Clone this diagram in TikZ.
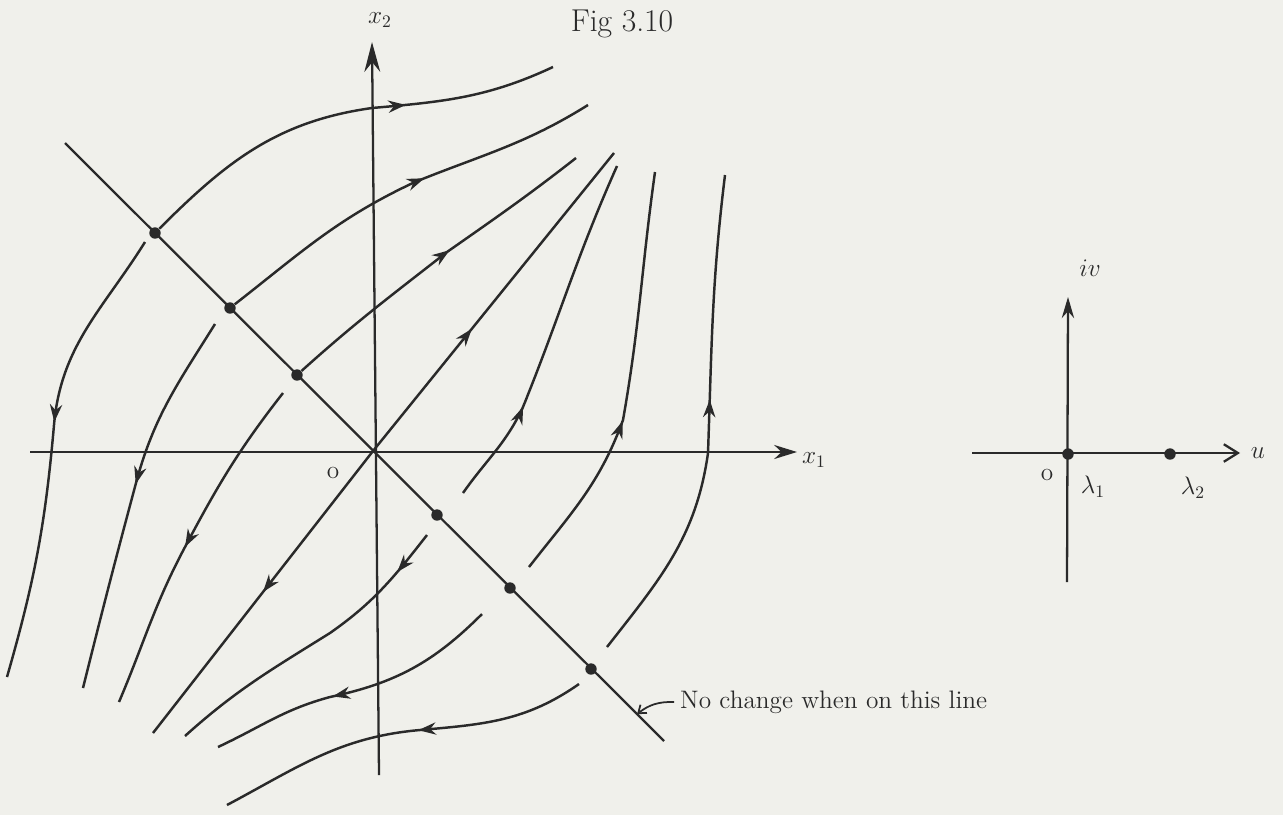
\documentclass[tikz,border=0pt]{standalone}
\usetikzlibrary{arrows.meta,calc,decorations.markings}
\definecolor{ink}{RGB}{42,42,42}
\definecolor{paper}{RGB}{240,240,235}
\tikzset{
  axis/.style={draw=ink,line width=1.3pt},
  traj/.style={draw=ink,line width=1.4pt,postaction={decorate},
    decoration={markings,mark=at position #1 with {\arrow{Stealth[length=10pt,width=7pt]}}}},
  eq/.style={circle,fill=ink,inner sep=0pt,minimum size=6.5pt},
  lbl/.style={text=ink,font=\Large},
}

\begin{document}
\begin{tikzpicture}[x=0.02cm,y=0.02cm]
  \fill[paper] (0,0) rectangle (1283,-815);
  \useasboundingbox (0,0) rectangle (1283,-815);

  \node[text=ink,font=\fontsize{18}{22}\selectfont,anchor=base] (fig) at (622,-31) {Fig 3.10};

  % phase plane
  \coordinate (O) at (373,-451);
  \draw[axis,-{Stealth[length=13pt,width=8pt]}] (30,-452) -- (797,-452);
  \draw[axis,-{Stealth[length=17pt,width=9pt]}] (379,-775) -- (372,-42);
  \node[lbl] (x1) at (814,-460) {$x_1$};
  \node[lbl] (x2) at (380,-20) {$x_2$};
  \node[lbl] (zero) at (333,-473) {o};

  \coordinate (dA) at (65,-143);
  \coordinate (dB) at (664,-741);
  \draw[axis] (dA) -- (dB);
  \node[eq] (d1) at (155,-233) {};
  \node[eq] (d2) at (230,-308) {};
  \node[eq] (d3) at (297,-375) {};
  \node[eq] (d4) at (437,-515) {};
  \node[eq] (d5) at (510,-588) {};
  \node[eq] (d6) at (591,-669) {};

  \coordinate (ua) at (614,-153);
  \coordinate (ub) at (153,-733);
  \draw[traj=0.41] (O) -- (ua);
  \draw[traj=0.5] (O) -- (ub);

  \draw[traj=0.65] (d1) to[out=45,in=188] (372,-108) to[out=5,in=205] (553,-67);
  \draw[traj=0.56] (d2) to[out=38,in=205] (415,-182) to[out=22,in=212] (588,-105);
  \draw[traj=0.55] (d3) to[out=42,in=218] (447,-252) to[out=35,in=218] (576,-158);

  \draw[traj=0.29] (463,-493) to[out=55,in=245] (523,-407) to[out=68,in=246] (617,-166);
  \draw[traj=0.41] (529,-567) to[out=52,in=250] (623,-420) to[out=80,in=262] (655,-172);
  \draw[traj=0.55] (607,-647) to[out=52,in=262] (708,-453) to[out=88,in=263] (725,-175);

  \draw[traj=0.44] (145,-242) to[out=238,in=85] (54,-425) to[out=265,in=74] (7,-677);
  \draw[traj=0.46] (215,-324) to[out=238,in=75] (136,-483) to[out=255,in=76] (83,-688);
  \draw[traj=0.52] (283,-393) to[out=232,in=62] (185,-547) to[out=242,in=67] (119,-702);

  \draw[traj=0.15] (427,-535) to[out=232,in=35] (330,-633) to[out=212,in=42] (185,-736);
  \draw[traj=0.58] (482,-614) to[out=225,in=12] (330,-697) to[out=195,in=25] (218,-747);
  \draw[traj=0.45] (579,-684) to[out=215,in=5] (420,-730) to[out=185,in=28] (227,-805);

  \node[lbl,anchor=west] (note) at (674,-702) {No change when on this line};
  \coordinate (tip) at ($(dA)!0.955!(dB)$);
  \draw[draw=ink,line width=1pt,-{Straight Barb[length=4pt,width=6pt]}] (note.west) to[bend right=20] (tip);

  % eigenvalue plane
  \draw[axis,-{Straight Barb[length=8pt,width=10pt]}] (972,-453) -- (1240,-453);
  \draw[axis,-{Stealth[length=12pt,width=7pt]}] (1067,-582) -- (1068,-297);
  \node[lbl] (u) at (1258,-453) {$u$};
  \node[lbl] (iv) at (1090,-268) {$iv$};
  \node[eq] (l1) at (1068,-454) {};
  \node[eq] (l2) at (1170,-454) {};
  \node[lbl] (zero2) at (1047,-475) {o};
  \node[lbl] (lam1) at (1093,-487) {$\lambda_1$};
  \node[lbl] (lam2) at (1193,-488) {$\lambda_2$};
\end{tikzpicture}
\end{document}
